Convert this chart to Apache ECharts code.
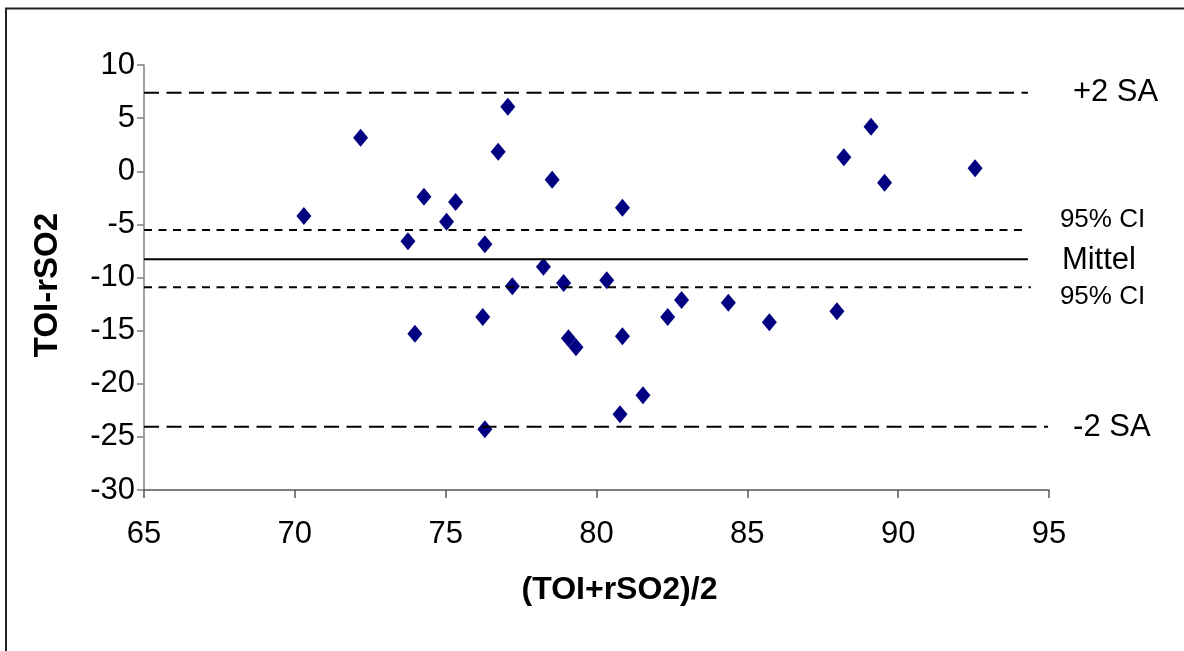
<!DOCTYPE html>
<html>
<head>
<meta charset="utf-8">
<script src="https://cdn.jsdelivr.net/npm/echarts@6/dist/echarts.min.js"></script>
<style>
  html, body { margin: 0; padding: 0; background: #fff; }
  #chart { width: 1184px; height: 651px; }
</style>
</head>
<body>
<div id="chart"></div>
<script>
// Bland-Altman plot: TOI vs. rSO2
const meanValues = [
  70.30, 72.18, 73.75, 73.98, 74.28, 75.03, 75.33, 76.30, 76.23, 76.30,
  76.74, 77.06, 77.21, 78.24, 78.53, 78.91, 79.07, 79.32, 80.34, 80.86,
  80.86, 80.78, 81.54, 82.36, 82.82, 84.37, 85.73, 87.97, 88.20, 89.10,
  89.55, 92.55
];
const diffValues = [
  -4.21, 3.16, -6.59, -15.29, -2.40, -4.75, -2.89, -6.88, -13.72, -24.29,
  1.84, 6.08, -10.83, -8.98, -0.80, -10.52, -15.72, -16.57, -10.26, -3.43,
  -15.53, -22.88, -21.09, -13.72, -12.12, -12.37, -14.22, -13.18, 1.31, 4.19,
  -1.08, 0.28
];

// Reference lines: limits of agreement, confidence bounds and mean difference
const refNames  = ['+2 SA', '95% CI', 'Mittel', '95% CI', '-2 SA'];
const refValues = [7.39, -5.53, -8.29, -10.92, -24.04];
const refStartX = [65, 65, 65, 65, 65];
const refEndX   = [94.3, 94.3, 94.3, 94.4, 94.97];

const xTicks = { min: 65, max: 95, step: 5 };
const yTicks = { min: -30, max: 10, step: 5 };

const FONT = '"Liberation Sans", Arial, sans-serif';

// per-line drawing styles
const refStyles = [
  { type: [15, 7.5], width: 2, labelSize: 31, distance: 45, dy: 0 },
  { type: [8, 6.5],  width: 2, labelSize: 26, distance: 32, dy: -10 },
  { type: 'solid',   width: 2, labelSize: 31, distance: 34, dy: 1 },
  { type: [8, 6.5],  width: 2, labelSize: 26, distance: 29, dy: 10 },
  { type: [15, 7.5], width: 2, labelSize: 31, distance: 25, dy: 1 }
];

const refSeries = refNames.map((name, i) => ({
  type: 'line',
  name: name,
  z: 5,
  silent: true,
  symbol: 'none',
  animation: false,
  clip: false,
  lineStyle: { color: '#000', width: refStyles[i].width, type: refStyles[i].type },
  endLabel: {
    show: true,
    distance: refStyles[i].distance,
    offset: [0, refStyles[i].dy],
    formatter: name,
    color: '#000',
    fontFamily: FONT,
    fontSize: refStyles[i].labelSize
  },
  data: [
    [refStartX[i], refValues[i]],
    [refEndX[i], refValues[i]]
  ]
}));

const chart = echarts.init(document.getElementById('chart'), null, { renderer: 'canvas' });

chart.setOption({
  backgroundColor: '#fff',
  animation: false,
  textStyle: { fontFamily: FONT },
  graphic: [{
    type: 'rect',
    z: 0,
    shape: { x: 6, y: 8.5, width: 1200, height: 700 },
    style: { fill: 'none', stroke: '#222', lineWidth: 2 }
  }],
  grid: { left: 144, right: 135, top: 65, bottom: 161, containLabel: false },
  xAxis: {
    type: 'value',
    min: xTicks.min,
    max: xTicks.max,
    interval: xTicks.step,
    name: '(TOI+rSO2)/2',
    nameLocation: 'middle',
    nameGap: 84,
    nameTextStyle: { fontFamily: FONT, fontSize: 32, fontWeight: 'bold', color: '#000', padding: [0, 0, 0, 46] },
    axisLine: { show: true, onZero: false, lineStyle: { color: '#555', width: 1.5 } },
    axisTick: { show: true, inside: false, length: 8, lineStyle: { color: '#555', width: 1.5 } },
    axisLabel: { fontFamily: FONT, fontSize: 31, color: '#000', margin: 29 },
    splitLine: { show: false }
  },
  yAxis: {
    type: 'value',
    min: yTicks.min,
    max: yTicks.max,
    interval: yTicks.step,
    name: 'TOI-rSO2',
    nameLocation: 'middle',
    nameRotate: 90,
    nameGap: 80,
    nameTextStyle: { fontFamily: FONT, fontSize: 33, fontWeight: 'bold', color: '#000', padding: [0, 15, 0, 0] },
    axisLine: { show: true, onZero: false, lineStyle: { color: '#808080', width: 1.5 } },
    axisTick: { show: true, inside: false, length: 7, lineStyle: { color: '#808080', width: 1.5 } },
    axisLabel: { fontFamily: FONT, fontSize: 31, color: '#000', margin: 9 },
    splitLine: { show: false }
  },
  series: [
    {
      type: 'scatter',
      name: 'TOI-rSO2',
      z: 3,
      symbol: 'diamond',
      symbolSize: [15, 18],
      itemStyle: { color: '#000080', opacity: 1 },
      data: meanValues.map((x, i) => [x, diffValues[i]])
    },
    ...refSeries
  ]
});
</script>
</body>
</html>
